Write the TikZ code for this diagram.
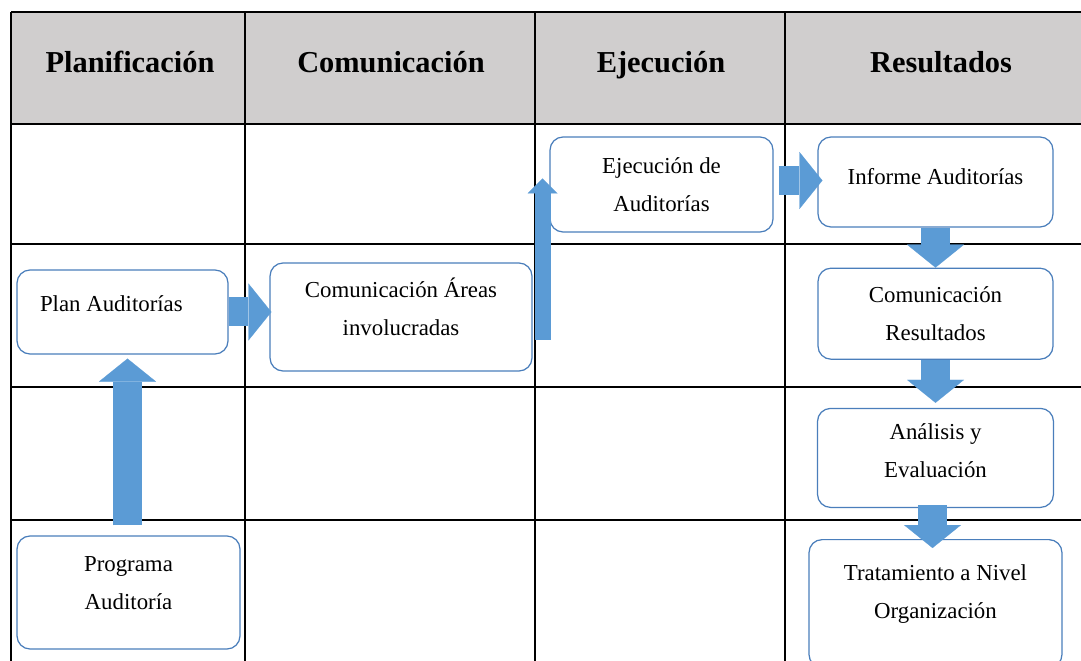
\documentclass[tikz,border=0pt]{standalone}
\usepackage{fontspec}
\setmainfont{Liberation Serif}
\usetikzlibrary{arrows.meta,positioning,calc}
\definecolor{headgray}{HTML}{D0CECE}
\definecolor{arrowblue}{HTML}{5B9BD5}
\definecolor{boxblue}{HTML}{4A7EBB}

\begin{document}
\begin{tikzpicture}[x=0.02cm,y=-0.02cm,
  head/.style={font=\fontsize{17.3}{20}\selectfont\bfseries,anchor=base},
  procbox/.style={draw=boxblue,line width=0.7pt,fill=white,rounded corners=0.26cm,
    align=center,inner sep=0pt,font=\fontsize{13}{21.6}\selectfont},
  bigarrow/.style={draw=arrowblue,line width=0.58cm,
    -{Triangle[width=1.14cm,length=0.46cm,line width=0.1pt]}},
  thinarrow/.style={draw=arrowblue,line width=0.32cm,
    -{Triangle[width=0.6cm,length=0.3cm,line width=0.1pt]}}]
  \useasboundingbox (0,0) rectangle (1081,661);

  \fill[headgray] (11,12) rectangle (1081,124);
  \foreach \y in {12,124,244,387,520}{\draw[line width=0.8pt] (11,\y) -- (1081,\y);}
  \foreach \x in {11,245,535,785}{\draw[line width=0.8pt] (\x,12) -- (\x,661);}

  \foreach \name/\x/\txt in {hplan/130/Planificación,hcom/391/Comunicación,heje/661/Ejecución,hres/941/Resultados}{%
    \node[head] (\name) at (\x,73) {\txt};
  }

  \node[procbox,minimum width=4.22cm,minimum height=1.68cm,text width=3.3cm,align=flush left,text depth=0.32cm] (plan) at (122.5,312) {Plan Auditorías};
  \node[procbox,minimum width=4.46cm,minimum height=2.26cm,text depth=0.38cm] (prog) at (128.5,592.5) {Programa\\Auditoría};
  \node[procbox,minimum width=5.24cm,minimum height=2.16cm,text depth=0.42cm] (coma) at (401,317) {Comunicación Áreas\\involucradas};
  \node[procbox,minimum width=4.46cm,minimum height=1.9cm] (ejec) at (661.5,184.5) {Ejecución de\\Auditorías};
  \node[procbox,minimum width=4.7cm,minimum height=1.8cm,text depth=0.24cm] (inf) at (935.5,182) {Informe Auditorías};
  \node[procbox,minimum width=4.7cm,minimum height=1.82cm,below=0.8cm of inf] (comr) {Comunicación\\Resultados};
  \node[procbox,minimum width=4.72cm,minimum height=1.98cm,text depth=0.3cm,below=0.96cm of comr] (ana) {Análisis y\\Evaluación};
  \node[procbox,minimum width=5.06cm,minimum height=2.56cm,text depth=0.5cm,below=0.62cm of ana] (trat) {Tratamiento a Nivel\\Organización};

  \draw[bigarrow] (plan.east) -- ($(plan.east -| coma.west)+(2,0)$);
  \draw[bigarrow] ($(prog.north)+(-1,-10)$) -- ($(prog.north |- plan.south)+(-1,4)$);
  \draw[thinarrow] ($(coma.east)+(10,23)$) -- ($(coma.east |- ejec.west)+(10,-6)$);
  \draw[bigarrow] ($(ejec.east)+(5,-4)$) -- ($(inf.west |- ejec.east)+(5,-4)$);
  \draw[bigarrow] (inf.south) -- (comr.north);
  \draw[bigarrow] (comr.south) -- ($(ana.north)+(0,-5)$);
  \draw[bigarrow] ($(ana.south)+(-3,-3)$) -- ($(ana.south |- trat.north)+(-3,9)$);
\end{tikzpicture}
\end{document}
